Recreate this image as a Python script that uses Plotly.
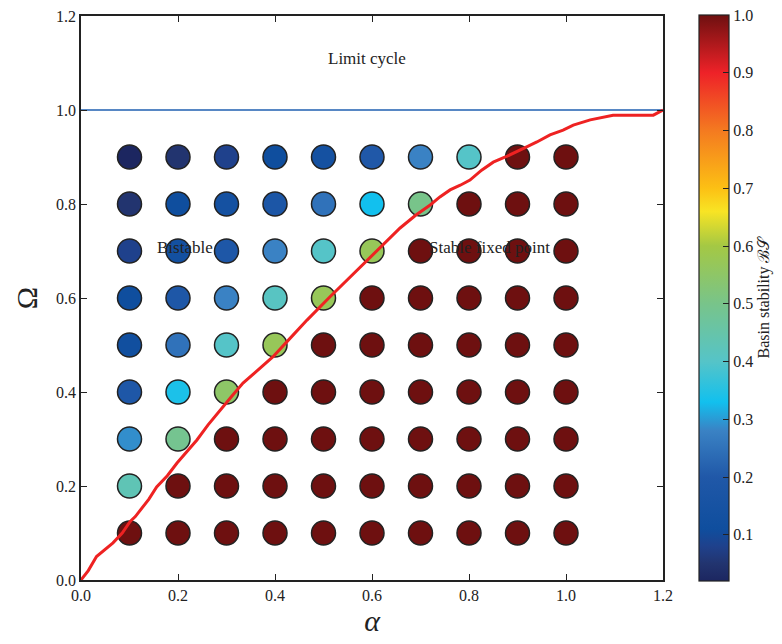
import plotly.graph_objects as go

# Parameter grid
alpha_vals = [0.1, 0.2, 0.3, 0.4, 0.5, 0.6, 0.7, 0.8, 0.9, 1.0]
omega_vals = [0.1, 0.2, 0.3, 0.4, 0.5, 0.6, 0.7, 0.8, 0.9]

# Basin stability, one row per omega (0.1 .. 0.9), columns follow alpha_vals
bs_rows = [
    [1.0, 1.0, 1.0, 1.0, 1.0, 1.0, 1.0, 1.0, 1.0, 1.0],
    [0.43, 1.0, 1.0, 1.0, 1.0, 1.0, 1.0, 1.0, 1.0, 1.0],
    [0.29, 0.49, 1.0, 1.0, 1.0, 1.0, 1.0, 1.0, 1.0, 1.0],
    [0.19, 0.34, 0.55, 1.0, 1.0, 1.0, 1.0, 1.0, 1.0, 1.0],
    [0.12, 0.25, 0.40, 0.57, 1.0, 1.0, 1.0, 1.0, 1.0, 1.0],
    [0.11, 0.19, 0.28, 0.41, 0.57, 1.0, 1.0, 1.0, 1.0, 1.0],
    [0.08, 0.13, 0.19, 0.28, 0.40, 0.57, 1.0, 1.0, 1.0, 1.0],
    [0.05, 0.11, 0.14, 0.18, 0.25, 0.33, 0.50, 1.0, 1.0, 1.0],
    [0.02, 0.05, 0.08, 0.11, 0.14, 0.20, 0.28, 0.40, 1.0, 1.0],
]

# Boundary between bistable and stable-fixed-point regions
boundary_alpha = [0.0, 0.015, 0.032, 0.05, 0.066, 0.085, 0.101, 0.112, 0.122, 0.14, 0.156,
                  0.178, 0.198, 0.218, 0.239, 0.262, 0.287, 0.31, 0.334, 0.365, 0.396,
                  0.43, 0.466, 0.513, 0.555, 0.596, 0.628, 0.658, 0.69, 0.72, 0.74,
                  0.761, 0.782, 0.802, 0.826, 0.85, 0.875, 0.899, 0.92, 0.94, 0.967,
                  0.994, 1.015, 1.05, 1.075, 1.097, 1.14, 1.18, 1.2]
boundary_omega = [0.0, 0.02, 0.05, 0.065, 0.079, 0.1, 0.124, 0.135, 0.149, 0.172, 0.198,
                  0.222, 0.249, 0.272, 0.298, 0.33, 0.362, 0.39, 0.419, 0.448, 0.475,
                  0.513, 0.553, 0.602, 0.645, 0.687, 0.72, 0.749, 0.776, 0.798, 0.815,
                  0.83, 0.84, 0.851, 0.872, 0.889, 0.9, 0.911, 0.922, 0.932, 0.947,
                  0.957, 0.968, 0.979, 0.984, 0.989, 0.989, 0.989, 1.0]

# Limit-cycle threshold
limit_alpha = [0.0, 1.2]
limit_omega = [1.0, 1.0]

xs, ys, cs = [], [], []
for j, om in enumerate(omega_vals):
    for i, al in enumerate(alpha_vals):
        xs.append(al)
        ys.append(om)
        cs.append(bs_rows[j][i])

cmin, cmax = 0.02, 1.0


def stop(v):
    return (v - cmin) / (cmax - cmin)


colorscale = [
    [0.0, "#1c2660"],
    [stop(0.05), "#22346f"],
    [stop(0.08), "#1f418c"],
    [stop(0.11), "#0f4e9e"],
    [stop(0.20), "#2058a8"],
    [stop(0.28), "#3a82c4"],
    [stop(0.33), "#12c0ee"],
    [stop(0.40), "#55c4c8"],
    [stop(0.50), "#78c48a"],
    [stop(0.60), "#a4c844"],
    [stop(0.66), "#f8e424"],
    [stop(0.70), "#fcc014"],
    [stop(0.80), "#f47a20"],
    [stop(0.90), "#ee2228"],
    [1.0, "#6e1010"],
]

font_family = "Liberation Serif, Times New Roman, serif"

fig = go.Figure()

fig.add_trace(go.Scatter(
    x=limit_alpha, y=limit_omega, mode="lines",
    line=dict(color="#1f5fb0", width=1.5), showlegend=False, hoverinfo="skip",
))

fig.add_trace(go.Scatter(
    x=xs, y=ys, mode="markers",
    marker=dict(
        size=24, color=cs, colorscale=colorscale, cmin=cmin, cmax=cmax,
        line=dict(color="#222222", width=1.5),
        colorbar=dict(
            x=1.062, xanchor="left", xpad=0, y=0.5, yanchor="middle", ypad=0,
            len=1.004, lenmode="fraction", thickness=30, thicknessmode="pixels",
            outlinecolor="#222222", outlinewidth=1.2,
            tickvals=[0.1, 0.2, 0.3, 0.4, 0.5, 0.6, 0.7, 0.8, 0.9, 1.0],
            ticktext=["0.1", "0.2", "0.3", "0.4", "0.5", "0.6", "0.7", "0.8", "0.9", "1.0"],
            ticks="inside", ticklen=6, tickcolor="#222222",
            tickfont=dict(family=font_family, size=16, color="#222222"),
            title=dict(text="Basin stability ℬ𝒮", side="right",
                       font=dict(family=font_family, size=16, color="#222222")),
        ),
    ),
    showlegend=False,
))

fig.add_trace(go.Scatter(
    x=boundary_alpha, y=boundary_omega, mode="lines",
    line=dict(color="#ee2222", width=3), showlegend=False, hoverinfo="skip",
))

annotations = [
    dict(x=0.59, y=1.11, text="Limit cycle"),
    dict(x=0.214, y=0.708, text="Bistable"),
    dict(x=0.843, y=0.708, text="Stable fixed point"),
]
for a in annotations:
    fig.add_annotation(x=a["x"], y=a["y"], text=a["text"], showarrow=False,
                       font=dict(family=font_family, size=17, color="#222222"))

axis_common = dict(
    showgrid=False, zeroline=False, showline=True, linecolor="#222222", linewidth=1.5,
    mirror="allticks", ticks="inside", ticklen=6, tickcolor="#222222",
    tickfont=dict(family=font_family, size=16, color="#222222"),
)

fig.update_xaxes(range=[0, 1.2], tickvals=[0, 0.2, 0.4, 0.6, 0.8, 1.0, 1.2],
                 ticktext=["0.0", "0.2", "0.4", "0.6", "0.8", "1.0", "1.2"],
                 title=dict(text="<i>α</i>", font=dict(family=font_family, size=30, color="#222222"),
                            standoff=4),
                 **axis_common)
fig.update_yaxes(range=[0, 1.2], tickvals=[0, 0.2, 0.4, 0.6, 0.8, 1.0, 1.2],
                 ticktext=["0.0", "0.2", "0.4", "0.6", "0.8", "1.0", "1.2"],
                 title=dict(text="Ω", font=dict(family=font_family, size=30, color="#222222"),
                            standoff=10),
                 **axis_common)

fig.update_layout(
    width=782, height=644,
    margin=dict(l=81, r=119, t=16, b=64, autoexpand=False),
    plot_bgcolor="white", paper_bgcolor="white",
    font=dict(family=font_family, color="#222222"),
)

fig.write_html("out.html")
